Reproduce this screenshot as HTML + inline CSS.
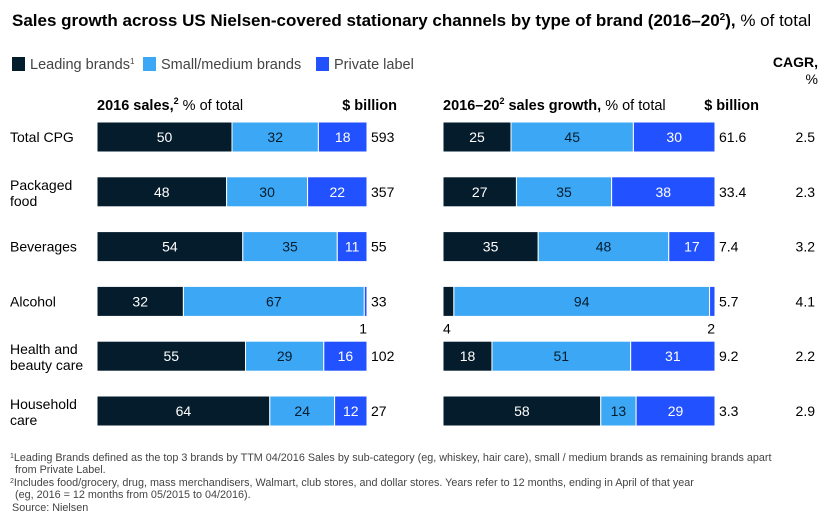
<!DOCTYPE html>
<html><head><meta charset="utf-8"><style>
body{margin:0;background:#fff;}
svg{display:block;font-family:"Liberation Sans",sans-serif;}
</style></head><body>
<svg id="chart" width="830" height="526">
<text x="12" y="26" font-size="17" font-weight="bold" fill="#000">Sales growth across US Nielsen-covered stationary channels by type of brand (2016–20<tspan font-size="10" dy="-6">2</tspan><tspan dy="6">),</tspan><tspan font-weight="normal"> % of total</tspan></text>
<g>
<rect x="12" y="57" width="13" height="14" fill="#051c2c"/>
<text x="30" y="69" font-size="14.5" fill="#444">Leading brands<tspan font-size="8" dy="-5">1</tspan></text>
<rect x="143" y="57" width="13" height="14" fill="#3ca8f5"/>
<text x="161" y="69" font-size="14.5" fill="#444">Small/medium brands</text>
<rect x="316" y="57" width="13" height="14" fill="#2251ff"/>
<text x="334" y="69" font-size="14.5" fill="#444">Private label</text>
</g>
<text x="818" y="67" font-size="14" font-weight="bold" text-anchor="end">CAGR,</text>
<text x="818" y="84" font-size="14" text-anchor="end">%</text>
<text x="97" y="110" font-size="14.5" font-weight="bold">2016 sales,<tspan font-size="9" dy="-6">2</tspan><tspan dy="6" font-weight="normal"> % of total</tspan></text>
<text x="397" y="110" font-size="14.5" font-weight="bold" text-anchor="end">$ billion</text>
<text x="443" y="110" font-size="14.5" font-weight="bold">2016–20<tspan font-size="9" dy="-6">2</tspan><tspan dy="6"> sales growth,</tspan><tspan font-weight="normal"> % of total</tspan></text>
<text x="759" y="110" font-size="14.5" font-weight="bold" text-anchor="end">$ billion</text>
<g id="rows"></g>
<g font-size="10.8" fill="#444">
<text x="10" y="461"><tspan font-size="7" dy="-3">1</tspan><tspan dy="3">Leading Brands defined as the top 3 brands by TTM 04/2016 Sales by sub-category (eg, whiskey, hair care), small / medium brands as remaining brands apart</tspan></text>
<text x="15" y="473">from Private Label.</text>
<text x="10" y="486"><tspan font-size="7" dy="-3">2</tspan><tspan dy="3">Includes food/grocery, drug, mass merchandisers, Walmart, club stores, and dollar stores. Years refer to 12 months, ending in April of that year</tspan></text>
<text x="15" y="498">(eg, 2016 = 12 months from 05/2015 to 04/2016).</text>
<text x="12" y="511">Source: Nielsen</text>
</g>
</svg>
<script>
const categories=[["Total CPG"],["Packaged","food"],["Beverages"],["Alcohol"],["Health and","beauty care"],["Household","care"]];
const sales2016=[[50,32,18],[48,30,22],[54,35,11],[32,67,1],[55,29,16],[64,24,12]];
const salesBillion=["593","357","55","33","102","27"];
const growth=[[25,45,30],[27,35,38],[35,48,17],[4,94,2],[18,51,31],[58,13,29]];
const growthBillion=["61.6","33.4","7.4","5.7","9.2","3.3"];
const cagr=["2.5","2.3","3.2","4.1","2.2","2.9"];
const colors=["#051c2c","#3ca8f5","#2251ff"];
const textCol=["#fff","#051c2c","#fff"];
const segNames=["leading","small-medium","private"];
const NS="http://www.w3.org/2000/svg";
const g=document.getElementById('rows');
function yTop(i){return 122+i*54.8;}
const BH=30;
function xs(x0,w,v){return x0+v/100*w;}
function mk(tag,attrs,parent){const e=document.createElementNS(NS,tag);for(const k in attrs)e.setAttribute(k,attrs[k]);parent.appendChild(e);return e;}
function drawBar(vals,x0,w,y,panel,i){
  let acc=0;
  vals.forEach((v,j)=>{
    const x1=xs(x0,w,acc),x2=xs(x0,w,acc+v);
    const r=mk('rect',{x:x1,y:y,width:x2-x1,height:BH,fill:colors[j],stroke:'#fff','stroke-width':1},g);
    
    
    if(v>=8){
      const t=mk('text',{x:(x1+x2)/2,y:y+BH/2+5,'font-size':14,'text-anchor':'middle',fill:textCol[j]},g);
      t.textContent=v;
      
      
    } else {
      const anchor=j===0?'start':'end';
      const tx=j===0?x1:x2;
      const t=mk('text',{x:tx,y:y+BH+17,'font-size':14,'text-anchor':anchor,fill:'#000'},g);
      t.textContent=v;
      
      
    }
    acc+=v;
  });
}
categories.forEach((c,i)=>{
  const y=yTop(i);
  const lt=mk('text',{x:10,'font-size':14,fill:'#000'},g);
  
  
  const base=c.length===1?y+BH/2+5:y+BH/2-2;
  c.forEach((line,k)=>{const ts=mk('tspan',{x:10,y:base+k*16},lt);ts.textContent=line;});
  drawBar(sales2016[i],97,270,y,'left',i);
  drawBar(growth[i],443,272,y,'right',i);
  const b1=mk('text',{x:371,y:y+BH/2+5,'font-size':14},g);b1.textContent=salesBillion[i];
  
  
  const b2=mk('text',{x:719,y:y+BH/2+5,'font-size':14},g);b2.textContent=growthBillion[i];
  
  
  const c3=mk('text',{x:815,y:y+BH/2+5,'font-size':14,'text-anchor':'end'},g);c3.textContent=cagr[i];
  
  
});
</script>
</body></html>
